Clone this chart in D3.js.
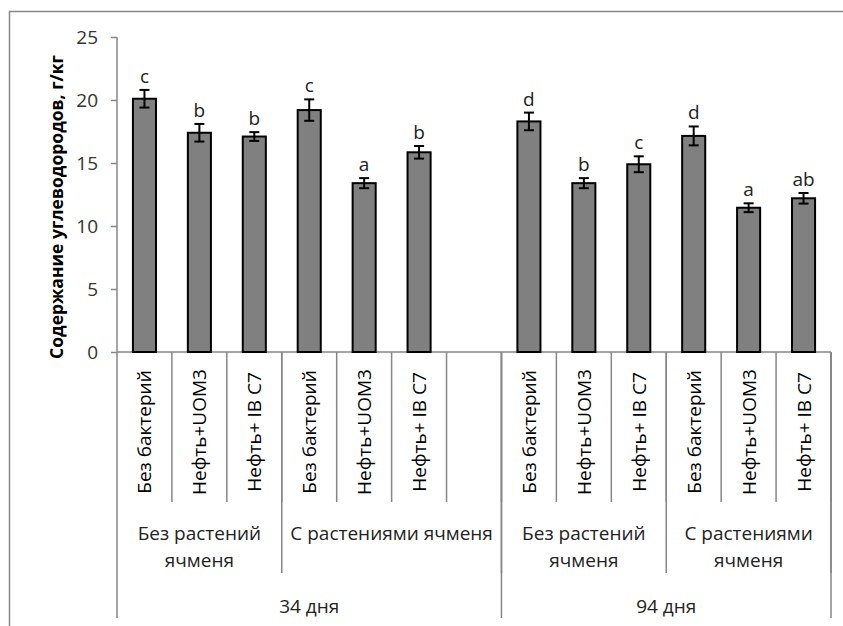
<!DOCTYPE html>
<html>
<head>
<meta charset="utf-8">
<script src="https://cdn.jsdelivr.net/npm/d3@7.9.0/dist/d3.min.js"></script>
<style>
  body { margin: 0; background: #fff; }
  svg { display: block; font-family: "Open Sans", sans-serif; }
</style>
</head>
<body>
<svg id="chart" width="843" height="626"></svg>
<script>
// bar level labels (13 slots, slot 7 is the empty gap)
const treatments = ["Без бактерий", "Нефть+UOM3", "Нефть+ IB C7",
                    "Без бактерий", "Нефть+UOM3", "Нефть+ IB C7", "",
                    "Без бактерий", "Нефть+UOM3", "Нефть+ IB C7",
                    "Без бактерий", "Нефть+UOM3", "Нефть+ IB C7"];
const values  = [20.1, 17.4, 17.1, 19.2, 13.4, 15.85, null, 18.3, 13.4, 14.9, 17.15, 11.45, 12.2];
const errors  = [0.7, 0.7, 0.35, 0.85, 0.4, 0.5, null, 0.7, 0.4, 0.63, 0.75, 0.35, 0.42];
const letters = ["c", "b", "b", "c", "a", "b", "", "d", "b", "c", "d", "a", "ab"];

// second level: plant groups (start slot, end slot)
const plantGroups = [
  {lines: ["Без растений", "ячменя"], from: 0, to: 3},
  {lines: ["С растениями ячменя"], from: 3, to: 7},
  {lines: ["Без растений", "ячменя"], from: 7, to: 10},
  {lines: ["С растениями", "ячменя"], from: 10, to: 13}
];
// third level: days
const periods = [
  {label: "34 дня", from: 0, to: 7},
  {label: "94 дня", from: 7, to: 13}
];
const yTicks = [0, 5, 10, 15, 20, 25];
const yTitle = "Содержание углеводородов, г/кг";

const svg = d3.select("#chart");
const grey = "#868686";
const fs = "19px";

// outer chart frame (runs off the right/bottom edge like the original)
svg.append("rect")
  .attr("x", 9.5).attr("y", 11.5)
  .attr("width", 900).attr("height", 700)
  .attr("fill", "none").attr("stroke", grey).attr("stroke-width", 1.5);

const x = d3.scaleBand().domain(d3.range(treatments.length)).range([117, 831]).padding(0);
const y = d3.scaleLinear().domain([0, 25]).range([352, 37]);
const slotEdge = i => x.range()[0] + i * x.step();

const yAxis = svg.append("g")
  .attr("transform", "translate(117,0)")
  .call(d3.axisLeft(y).tickValues(yTicks).tickSize(6).tickPadding(13));
yAxis.select(".domain").remove();
yAxis.selectAll(".tick line").attr("stroke", grey).attr("stroke-width", 1.5);
yAxis.selectAll(".tick text")
  .attr("fill", "#333").style("font-size", fs).style("font-family", "Open Sans");

// y axis line, continuing down as the outer category divider
svg.append("line")
  .attr("x1", 117).attr("x2", 117).attr("y1", y(25)).attr("y2", 618)
  .attr("stroke", grey).attr("stroke-width", 1.5);

// x axis line
svg.append("line")
  .attr("x1", 117).attr("x2", 831).attr("y1", y(0)).attr("y2", y(0))
  .attr("stroke", grey).attr("stroke-width", 1.5);

// dividers between bars
const lvl1 = svg.append("g");
d3.range(1, treatments.length + 1).forEach(i => {
  lvl1.append("line")
    .attr("x1", slotEdge(i)).attr("x2", slotEdge(i))
    .attr("y1", y(0)).attr("y2", 502)
    .attr("stroke", grey).attr("stroke-width", 1.5);
});
plantGroups.forEach(g => {
  svg.append("line")
    .attr("x1", slotEdge(g.to)).attr("x2", slotEdge(g.to))
    .attr("y1", y(0)).attr("y2", 573)
    .attr("stroke", grey).attr("stroke-width", 1.5);
});
periods.forEach(p => {
  svg.append("line")
    .attr("x1", slotEdge(p.to)).attr("x2", slotEdge(p.to))
    .attr("y1", y(0)).attr("y2", 618)
    .attr("stroke", grey).attr("stroke-width", 1.5);
});

// bars
const barW = x.bandwidth() * 0.42;
const data = values.map((v, i) => ({i, v, e: errors[i], l: letters[i]})).filter(d => d.v != null);

svg.append("g").selectAll("rect")
  .data(data).enter().append("rect")
  .attr("x", d => x(d.i) + (x.bandwidth() - barW) / 2)
  .attr("width", barW)
  .attr("y", d => y(d.v))
  .attr("height", d => y(0) - y(d.v))
  .attr("fill", "#808080").attr("stroke", "#000").attr("stroke-width", 2);

// error bars
const eg = svg.append("g").attr("stroke", "#000").attr("stroke-width", 2);
data.forEach(d => {
  const cx = x(d.i) + x.bandwidth() / 2;
  eg.append("line").attr("x1", cx).attr("x2", cx).attr("y1", y(d.v + d.e)).attr("y2", y(d.v - d.e));
  eg.append("line").attr("x1", cx - 5).attr("x2", cx + 5).attr("y1", y(d.v + d.e)).attr("y2", y(d.v + d.e));
  eg.append("line").attr("x1", cx - 5).attr("x2", cx + 5).attr("y1", y(d.v - d.e)).attr("y2", y(d.v - d.e));
});

// significance letters
svg.append("g").selectAll("text")
  .data(data).enter().append("text")
  .attr("x", d => x(d.i) + x.bandwidth() / 2)
  .attr("y", d => y(d.v + d.e) - 7)
  .attr("text-anchor", "middle")
  .style("font-size", fs).attr("fill", "#222")
  .text(d => d.l);

// treatment labels (rotated)
svg.append("g").selectAll("text")
  .data(treatments.map((t, i) => ({t, i})).filter(d => d.t)).enter().append("text")
  .attr("transform", d => `translate(${x(d.i) + x.bandwidth() / 2 + 7},432) rotate(-90)`)
  .attr("text-anchor", "middle")
  .style("font-size", fs).attr("fill", "#000")
  .text(d => d.t);

// plant group labels
plantGroups.forEach(g => {
  const cx = (slotEdge(g.from) + slotEdge(g.to)) / 2;
  g.lines.forEach((ln, k) => {
    svg.append("text")
      .attr("x", cx).attr("y", 540 + k * 27)
      .attr("text-anchor", "middle")
      .style("font-size", fs).attr("fill", "#222")
      .text(ln);
  });
});

// period labels
periods.forEach(p => {
  svg.append("text")
    .attr("x", (slotEdge(p.from) + slotEdge(p.to)) / 2).attr("y", 613)
    .attr("text-anchor", "middle")
    .style("font-size", fs).attr("fill", "#222")
    .text(p.label);
});

// y title
svg.append("text")
  .attr("transform", "translate(63,207) rotate(-90)")
  .attr("text-anchor", "middle")
  .style("font-size", "17.5px").style("font-weight", "bold").attr("fill", "#000")
  .text(yTitle);
</script>
</body>
</html>
